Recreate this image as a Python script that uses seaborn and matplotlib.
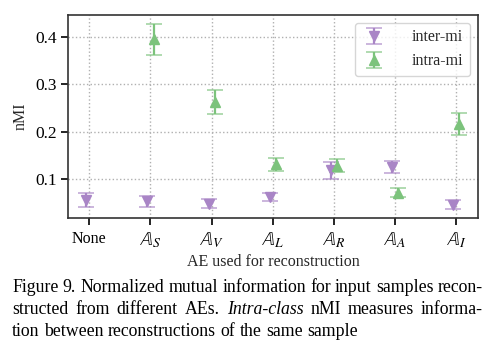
import matplotlib
matplotlib.use("Agg")
import matplotlib.pyplot as plt
import seaborn as sns
import numpy as np

# data -----------------------------------------------------------------
aes = ["None", r"$\mathbb{A}_S$", r"$\mathbb{A}_V$", r"$\mathbb{A}_L$",
       r"$\mathbb{A}_R$", r"$\mathbb{A}_A$", r"$\mathbb{A}_I$"]
inter_mean = [0.056, 0.053, 0.048, 0.062, 0.118, 0.126, 0.046]
inter_err = [0.015, 0.012, 0.009, 0.009, 0.018, 0.013, 0.009]
intra_mean = [np.nan, 0.395, 0.263, 0.131, 0.128, 0.071, 0.216]
intra_err = [np.nan, 0.032, 0.026, 0.014, 0.014, 0.009, 0.023]
yticks = [0.1, 0.2, 0.3, 0.4]

caption = [
    [("Figure", "normal"), ("9.", "normal"), ("Normalized", "normal"), ("mutual", "normal"),
     ("information", "normal"), ("for", "normal"), ("input", "normal"), ("samples", "normal"),
     ("recon-", "normal")],
    [("structed", "normal"), ("from", "normal"), ("different", "normal"), ("AEs.", "normal"),
     ("Intra-class", "italic"), ("nMI", "normal"), ("measures", "normal"),
     ("informa-", "normal")],
    [("tion", "normal"), ("between", "normal"), ("reconstructions", "normal"), ("of", "normal"),
     ("the", "normal"), ("same", "normal"), ("sample", "normal")],
]
# -------------------------------------------------------------------------

sns.set_style("ticks")
plt.rcParams['font.family'] = ['Liberation Serif', 'DejaVu Serif']
plt.rcParams['mathtext.fontset'] = 'stix'

purple = "#a985c6"
green = "#7cc37c"

fig = plt.figure(figsize=(4.94, 3.51), dpi=100)
ax = fig.add_axes([68 / 494, 1 - 218 / 351, 410 / 494, 203 / 351])

x = np.arange(len(aes))
d = 0.05

def draw(xs, m, e, c, mk, lab):
    eb = ax.errorbar(xs, m, yerr=e, fmt=mk, color=c, ecolor=c, elinewidth=1.6,
                     capsize=6, capthick=1.3, markersize=6.5, label=lab, zorder=3)
    for cap in eb[1]:
        cap.set_alpha(0.65)
    return eb

draw(x - d, inter_mean, inter_err, purple, "v", "inter-mi")
draw(x + d, intra_mean, intra_err, green, "^", "intra-mi")

ax.set_xlim(-0.35, 6.36)
ax.set_ylim(0.0176, 0.4465)
ax.set_xticks(x)
ax.set_xticklabels(aes)
ax.set_yticks(yticks)
ax.set_yticklabels([f"{v:.1f}" for v in yticks])
ax.tick_params(length=5, width=1.2, color="black", labelcolor="black")
ax.tick_params(axis="y", labelsize=12.5, pad=3)
ax.tick_params(axis="x", labelsize=11.5, pad=4)
for lab in ax.get_xticklabels()[1:]:
    lab.set_fontsize(14)
ax.grid(True, linestyle=":", color="#b0b0b0", linewidth=1.0)
for s in ax.spines.values():
    s.set_color("#333333")
    s.set_linewidth(1.2)
ax.set_xlabel("AE used for reconstruction", fontsize=11.5, labelpad=3)
ax.set_ylabel("nMI", fontsize=11.5, labelpad=5)

leg = ax.legend(loc="upper right", fontsize=11.5, frameon=True, fancybox=True,
                framealpha=0.8, edgecolor="#cccccc", handlelength=1.6,
                borderpad=0.4, labelspacing=0.5, handletextpad=1.6)

# caption, justified word by word
fs = 12.8
fig.canvas.draw()
r = fig.canvas.get_renderer()
W = 494.0
left, right = 12.0, 483.0
ys = [1 - 292 / 351, 1 - 314 / 351, 1 - 336 / 351]
for i, line in enumerate(caption):
    ts = [fig.text(0, ys[i], w, fontsize=fs, style=st, color="black") for w, st in line]
    ws = [t.get_window_extent(r).width for t in ts]
    if i < 2:
        gap = (right - left - sum(ws)) / (len(ws) - 1)
    else:
        gap = fs * 0.25 * 100 / 72
    pos = left
    for t, w in zip(ts, ws):
        t.set_x(pos / W)
        pos += w + gap

fig.savefig("out.png", dpi=100)
